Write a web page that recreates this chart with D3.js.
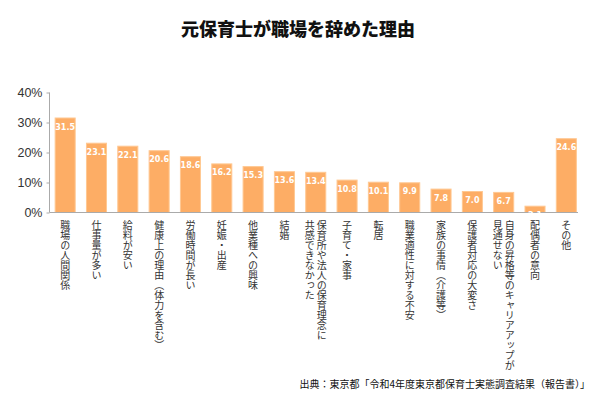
<!DOCTYPE html>
<html><head><meta charset="utf-8">
<script src="https://cdn.jsdelivr.net/npm/d3@7"></script>
<style>
body{margin:0;background:#fff;}
svg{display:block;}
</style></head>
<body>
<svg id="chart" width="600" height="400"></svg>
<script>
const categories = [
  ["職場の人間関係"],
  ["仕事量が多い"],
  ["給料が安い"],
  ["健康上の理由（体力を含む）"],
  ["労働時間が長い"],
  ["妊娠・出産"],
  ["他業種への興味"],
  ["結婚"],
  ["保育所や法人の保育理念に","共感できなかった"],
  ["子育て・家事"],
  ["転居"],
  ["職業適性に対する不安"],
  ["家族の事情（介護等）"],
  ["保護者対応の大変さ"],
  ["自身の昇格等のキャリアアップが","見通せない"],
  ["配偶者の意向"],
  ["その他"]
];
const values = [31.5,23.1,22.1,20.6,18.6,16.2,15.3,13.6,13.4,10.8,10.1,9.9,7.8,7.0,6.7,2.1,24.6];
const yTicks = [0,10,20,30,40];
const title = "元保育士が職場を辞めた理由";
const source = "出典：東京都「令和4年度東京都保育士実態調査結果（報告書）」";

const svg = d3.select("#chart");
const jp = "'Noto Sans CJK JP','Noto Sans',sans-serif";

const x = d3.scaleBand().domain(d3.range(values.length)).range([49.5, 582]).paddingInner(0.36).paddingOuter(0.18);
const y = d3.scaleLinear().domain([0,40]).range([212.5, 92.5]);

svg.append("text").attr("x",298).attr("y",36).attr("text-anchor","middle")
  .style("font-family",jp).style("font-weight","900").style("font-size","18px").attr("fill","#111").text(title);

// y axis
const yAxis = svg.append("g").attr("transform","translate(49.5,0)")
  .call(d3.axisLeft(y).tickValues(yTicks).tickFormat(d=>d+"%").tickSize(3).tickPadding(4));
yAxis.select(".domain").attr("stroke","#aaa").attr("d","M0,92.5V212.5");
yAxis.selectAll(".tick line").attr("stroke","#aaa");
yAxis.selectAll(".tick text").attr("fill","#333").style("font-family","'Liberation Sans',Arial,sans-serif").style("font-size","12.5px");

// bars
svg.append("g").selectAll("rect").data(values).join("rect")
  .attr("x",(d,i)=>x(i)).attr("width",x.bandwidth())
  .attr("y",d=>y(d)).attr("height",d=>y(0)-y(d))
  .attr("fill","#fdad65").attr("stroke","#ffc892").attr("stroke-width",1);

// x baseline
svg.append("line").attr("x1",49.5).attr("x2",578).attr("y1",212.5).attr("y2",212.5).attr("stroke","#aaa");

// value labels
svg.append("g").selectAll("text").data(values).join("text")
  .attr("x",(d,i)=>x(i)+x.bandwidth()/2).attr("y",d=>y(d)+11.5)
  .attr("text-anchor","middle").attr("fill","#fff")
  .style("font-family","'DejaVu Sans',sans-serif").style("font-weight","bold").style("font-size","8px")
  .text(d=>d.toFixed(1));

// category labels (vertical)
const lg = svg.append("g");
categories.forEach((lines,i)=>{
  const cx = x(i)+x.bandwidth()/2;
  const n = lines.length;
  lines.forEach((t,j)=>{
    const off = (n-1)/2*12 - j*12;
    lg.append("text").attr("x",cx+off).attr("y",220)
      .style("writing-mode","vertical-rl").style("font-family",jp).style("font-size","10px")
      .attr("fill","#333").text(t);
  });
});

svg.append("text").attr("x",590).attr("y",388).attr("text-anchor","end")
  .style("font-family",jp).style("font-size","10px").attr("fill","#111").text(source);
</script>
</body></html>
